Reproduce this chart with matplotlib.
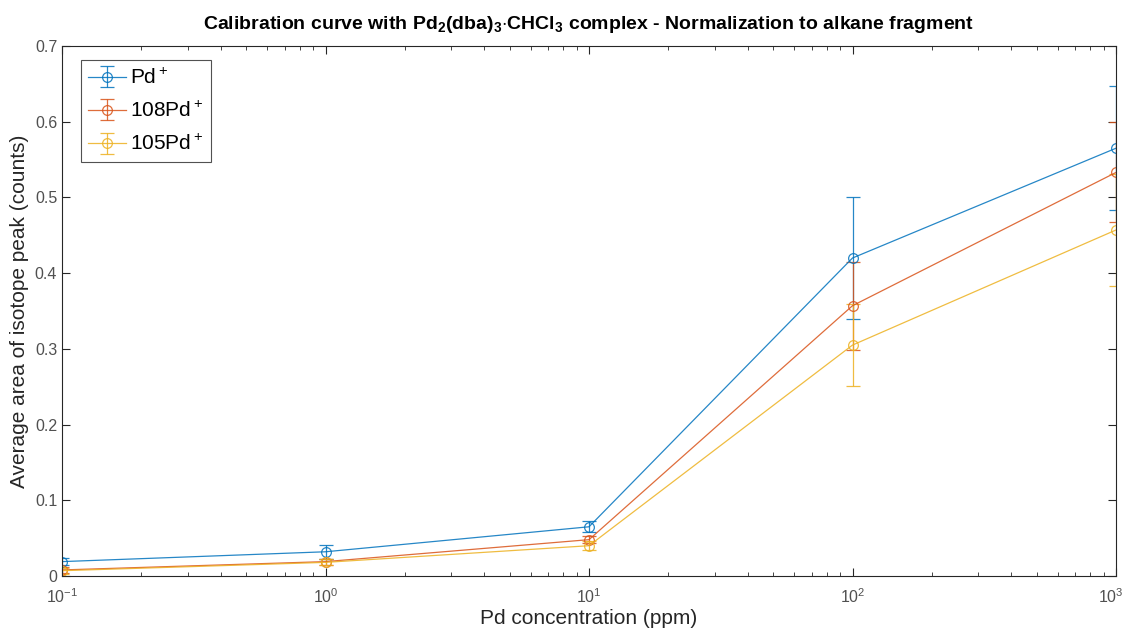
import numpy as np
import matplotlib.pyplot as plt
import matplotlib.transforms as mtransforms

plt.rcParams['font.family'] = ['Liberation Sans', 'DejaVu Sans']
plt.rcParams['mathtext.fontset'] = 'custom'
plt.rcParams['mathtext.rm'] = 'Liberation Sans'
plt.rcParams['mathtext.bf'] = 'Liberation Sans:bold'

# concentrations (ppm)
conc = [0.1, 1, 10, 100, 1000]
conc_labels = ['$10^{-1}$', '$10^{0}$', '$10^{1}$', '$10^{2}$', '$10^{3}$']

# average area of isotope peak and errors
pd_total = [0.019, 0.032, 0.065, 0.420, 0.565]
pd_total_err = [0.005, 0.009, 0.007, 0.080, 0.082]
pd108 = [0.008, 0.019, 0.048, 0.357, 0.533]
pd108_err = [0.004, 0.004, 0.005, 0.058, 0.066]
pd105 = [0.007, 0.018, 0.040, 0.305, 0.457]
pd105_err = [0.004, 0.004, 0.006, 0.054, 0.074]

labels = ['Pd$^+$', '108Pd$^+$', '105Pd$^+$']
colors = ['#0072BD', '#D95319', '#EDB120']

fig = plt.figure(figsize=(11.26, 6.29), dpi=100)
ax = fig.add_axes([62 / 1126, 1 - 576 / 629, (1116 - 62) / 1126, (576 - 46) / 629])

for y, e, lab, c in zip([pd_total, pd108, pd105],
                        [pd_total_err, pd108_err, pd105_err], labels, colors):
    ax.errorbar(conc, y, yerr=e, color=c, marker='o', mfc='none', ms=7,
                mew=0.9, lw=0.9, capsize=5, elinewidth=0.9, alpha=0.85, label=lab)

ax.set_xscale('log')
ax.set_xlim(0.1, 1000)
ax.set_ylim(0, 0.7)
ax.set_xticks(conc, conc_labels)
ax.set_yticks(np.arange(0, 0.71, 0.1))
ax.set_yticklabels(['0', '0.1', '0.2', '0.3', '0.4', '0.5', '0.6', '0.7'])

ax.tick_params(which='both', direction='in', top=True, right=True,
               labelsize=11.5, colors='#262626', labelcolor='#505050')
ax.tick_params(which='major', length=6)
ax.tick_params(which='minor', length=3)
ax.tick_params(axis='x', which='both', pad=8)
ax.tick_params(axis='y', which='minor', left=False, right=False)
for s in ax.spines.values():
    s.set_color('#262626')
    s.set_linewidth(0.8)

# keep the last x tick label inside the figure
last = ax.get_xticklabels()[-1]
last.set_transform(last.get_transform() +
                   mtransforms.ScaledTranslation(-5 / 100, 0, fig.dpi_scale_trans))

ax.set_xlabel('Pd concentration (ppm)', fontsize=15, color='#262626', labelpad=2)
ax.set_ylabel('Average area of isotope peak (counts)', fontsize=15, color='#262626')
ax.set_title('Calibration curve with Pd$_\\mathbf{2}$(dba)$_\\mathbf{3}$$\\cdot$CHCl$_\\mathbf{3}$'
             ' complex - Normalization to alkane fragment',
             fontsize=14, fontweight='bold', pad=12)

leg = ax.legend(loc='upper left', bbox_to_anchor=(0.018, 0.974), borderaxespad=0,
                fontsize=15, fancybox=False, edgecolor='#262626', handlelength=1.8,
                handletextpad=0.2, borderpad=0.35, labelspacing=0.6)
leg.get_frame().set_linewidth(0.8)

fig.savefig('out.png', dpi=100)
